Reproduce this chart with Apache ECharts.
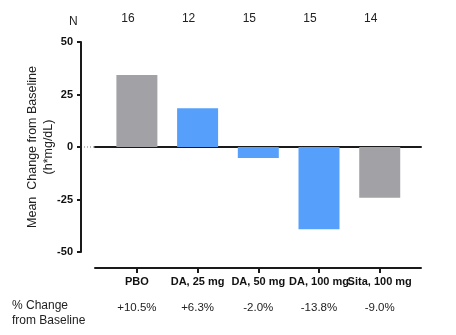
<!DOCTYPE html>
<html>
<head>
<meta charset="utf-8">
<script src="https://cdn.jsdelivr.net/npm/echarts@6/dist/echarts.min.js"></script>
<style>
  html, body { margin: 0; padding: 0; background: #fff; }
  #chart { width: 456px; height: 335px; }
</style>
</head>
<body>
<div id="chart"></div>
<script>
// Treatment groups, mean change from baseline (h*mg/dL), group sizes, % change
const categories = ['PBO', 'DA, 25 mg', 'DA, 50 mg', 'DA, 100 mg', 'Sita, 100 mg'];
const meanChange = [34.3, 18.5, -5.2, -39.2, -24.2];
const sampleSizes = [16, 12, 15, 15, 14];
const pctChange = ['+10.5%', '+6.3%', '-2.0%', '-13.8%', '-9.0%'];
const groupKind = ['control', 'active', 'active', 'active', 'control'];
const yMin = -50, yMax = 50, yStep = 25;

const FONT = 'Liberation Sans, Arial, sans-serif';
const GRAY = '#a2a1a5';
const BLUE = '#56a0fb';
const INK = '#1a1a1a';

const positions = categories.map((_, i) => i);
// neighbouring category names touch, so they are laid out on two interleaved label rows
const evenPositions = positions.filter(p => p % 2 === 0);
const oddPositions = positions.filter(p => p % 2 === 1);
const X_MIN = -0.69, X_MAX = 4.68;

const chart = echarts.init(document.getElementById('chart'), null, { renderer: 'canvas' });

const baseX = {
  type: 'value', min: X_MIN, max: X_MAX,
  splitLine: { show: false },
  axisLine: { show: false, onZero: false },
  axisTick: { show: false },
  axisLabel: { show: false }
};

function rowLabels(values, fmt, extra) {
  return Object.assign({
    show: true, customValues: values, hideOverlap: false,
    showMinLabel: true, showMaxLabel: true,
    formatter: fmt, fontFamily: FONT
  }, extra);
}

const catStyle = { margin: 8, fontSize: 11, fontWeight: 'bold', color: '#111' };

chart.setOption({
  animation: false,
  backgroundColor: '#fff',
  textStyle: { fontFamily: FONT },
  title: [
    { text: 'N', left: 64, top: 11, textStyle: { fontFamily: FONT, fontSize: 12, fontWeight: 'normal', color: '#222' } },
    { text: '% Change\nfrom Baseline', left: 7, top: 293,
      textStyle: { fontFamily: FONT, fontSize: 12, fontWeight: 'normal', color: '#222', lineHeight: 15 } }
  ],
  grid: { left: 95, right: 35, top: 42, bottom: 83, containLabel: false },
  xAxis: [
    // category axis along the bottom
    Object.assign({}, baseX, {
      position: 'bottom', offset: 16,
      axisLine: { show: true, onZero: false, lineStyle: { color: INK, width: 2 } },
      axisTick: { show: true, customValues: positions, length: 5, lineStyle: { color: INK, width: 2 } },
      axisLabel: rowLabels(evenPositions, v => categories[Math.round(v)], catStyle)
    }),
    Object.assign({}, baseX, {
      position: 'bottom', offset: 16,
      axisLabel: rowLabels(oddPositions, v => categories[Math.round(v)], catStyle)
    }),
    // baseline at zero
    Object.assign({}, baseX, {
      position: 'top',
      axisLine: { show: true, onZero: true, lineStyle: { color: INK, width: 2 } }
    }),
    // group sizes row (set slightly left of each bar centre)
    Object.assign({}, baseX, {
      position: 'top',
      axisLabel: rowLabels(positions, v => String(sampleSizes[Math.round(v)]),
        { margin: 17, fontSize: 12, color: '#222', padding: [0, 18, 0, 0] })
    }),
    // % change row
    Object.assign({}, baseX, {
      position: 'bottom', offset: 16,
      axisLabel: rowLabels(positions, v => pctChange[Math.round(v)],
        { margin: 34, fontSize: 11.5, color: '#222' })
    })
  ],
  yAxis: {
    type: 'value', min: yMin, max: yMax, interval: yStep,
    offset: 14,
    name: 'Mean  Change from Baseline\n(h*mg/dL)',
    nameLocation: 'middle', nameRotate: 90, nameGap: 24, nameMoveOverlap: false,
    nameTextStyle: { fontFamily: FONT, fontSize: 12.5, color: '#222', lineHeight: 16 },
    splitLine: { show: false },
    axisLine: { show: true, onZero: false, lineStyle: { color: INK, width: 2 } },
    axisTick: { show: true, length: 4, lineStyle: { color: INK, width: 2 } },
    axisLabel: { margin: 8, fontFamily: FONT, fontSize: 11, fontWeight: 'bold', color: '#111' }
  },
  series: [{
    type: 'bar',
    xAxisIndex: 0,
    barWidth: 41,
    data: meanChange.map((v, i) => ({
      value: [positions[i], v],
      itemStyle: { color: groupKind[i] === 'control' ? GRAY : BLUE }
    }))
  }]
});

// dotted lead-in from the y axis to the start of the zero baseline
const zeroY = chart.convertToPixel({ yAxisIndex: 0 }, 0);
const gridRect = chart.getModel().getComponent('grid', 0).coordinateSystem.getRect();
chart.setOption({
  graphic: [{
    type: 'line',
    shape: { x1: gridRect.x - 11, y1: zeroY, x2: gridRect.x, y2: zeroY },
    style: { stroke: '#777', lineWidth: 1, lineDash: [1, 2] }
  }]
});
</script>
</body>
</html>
